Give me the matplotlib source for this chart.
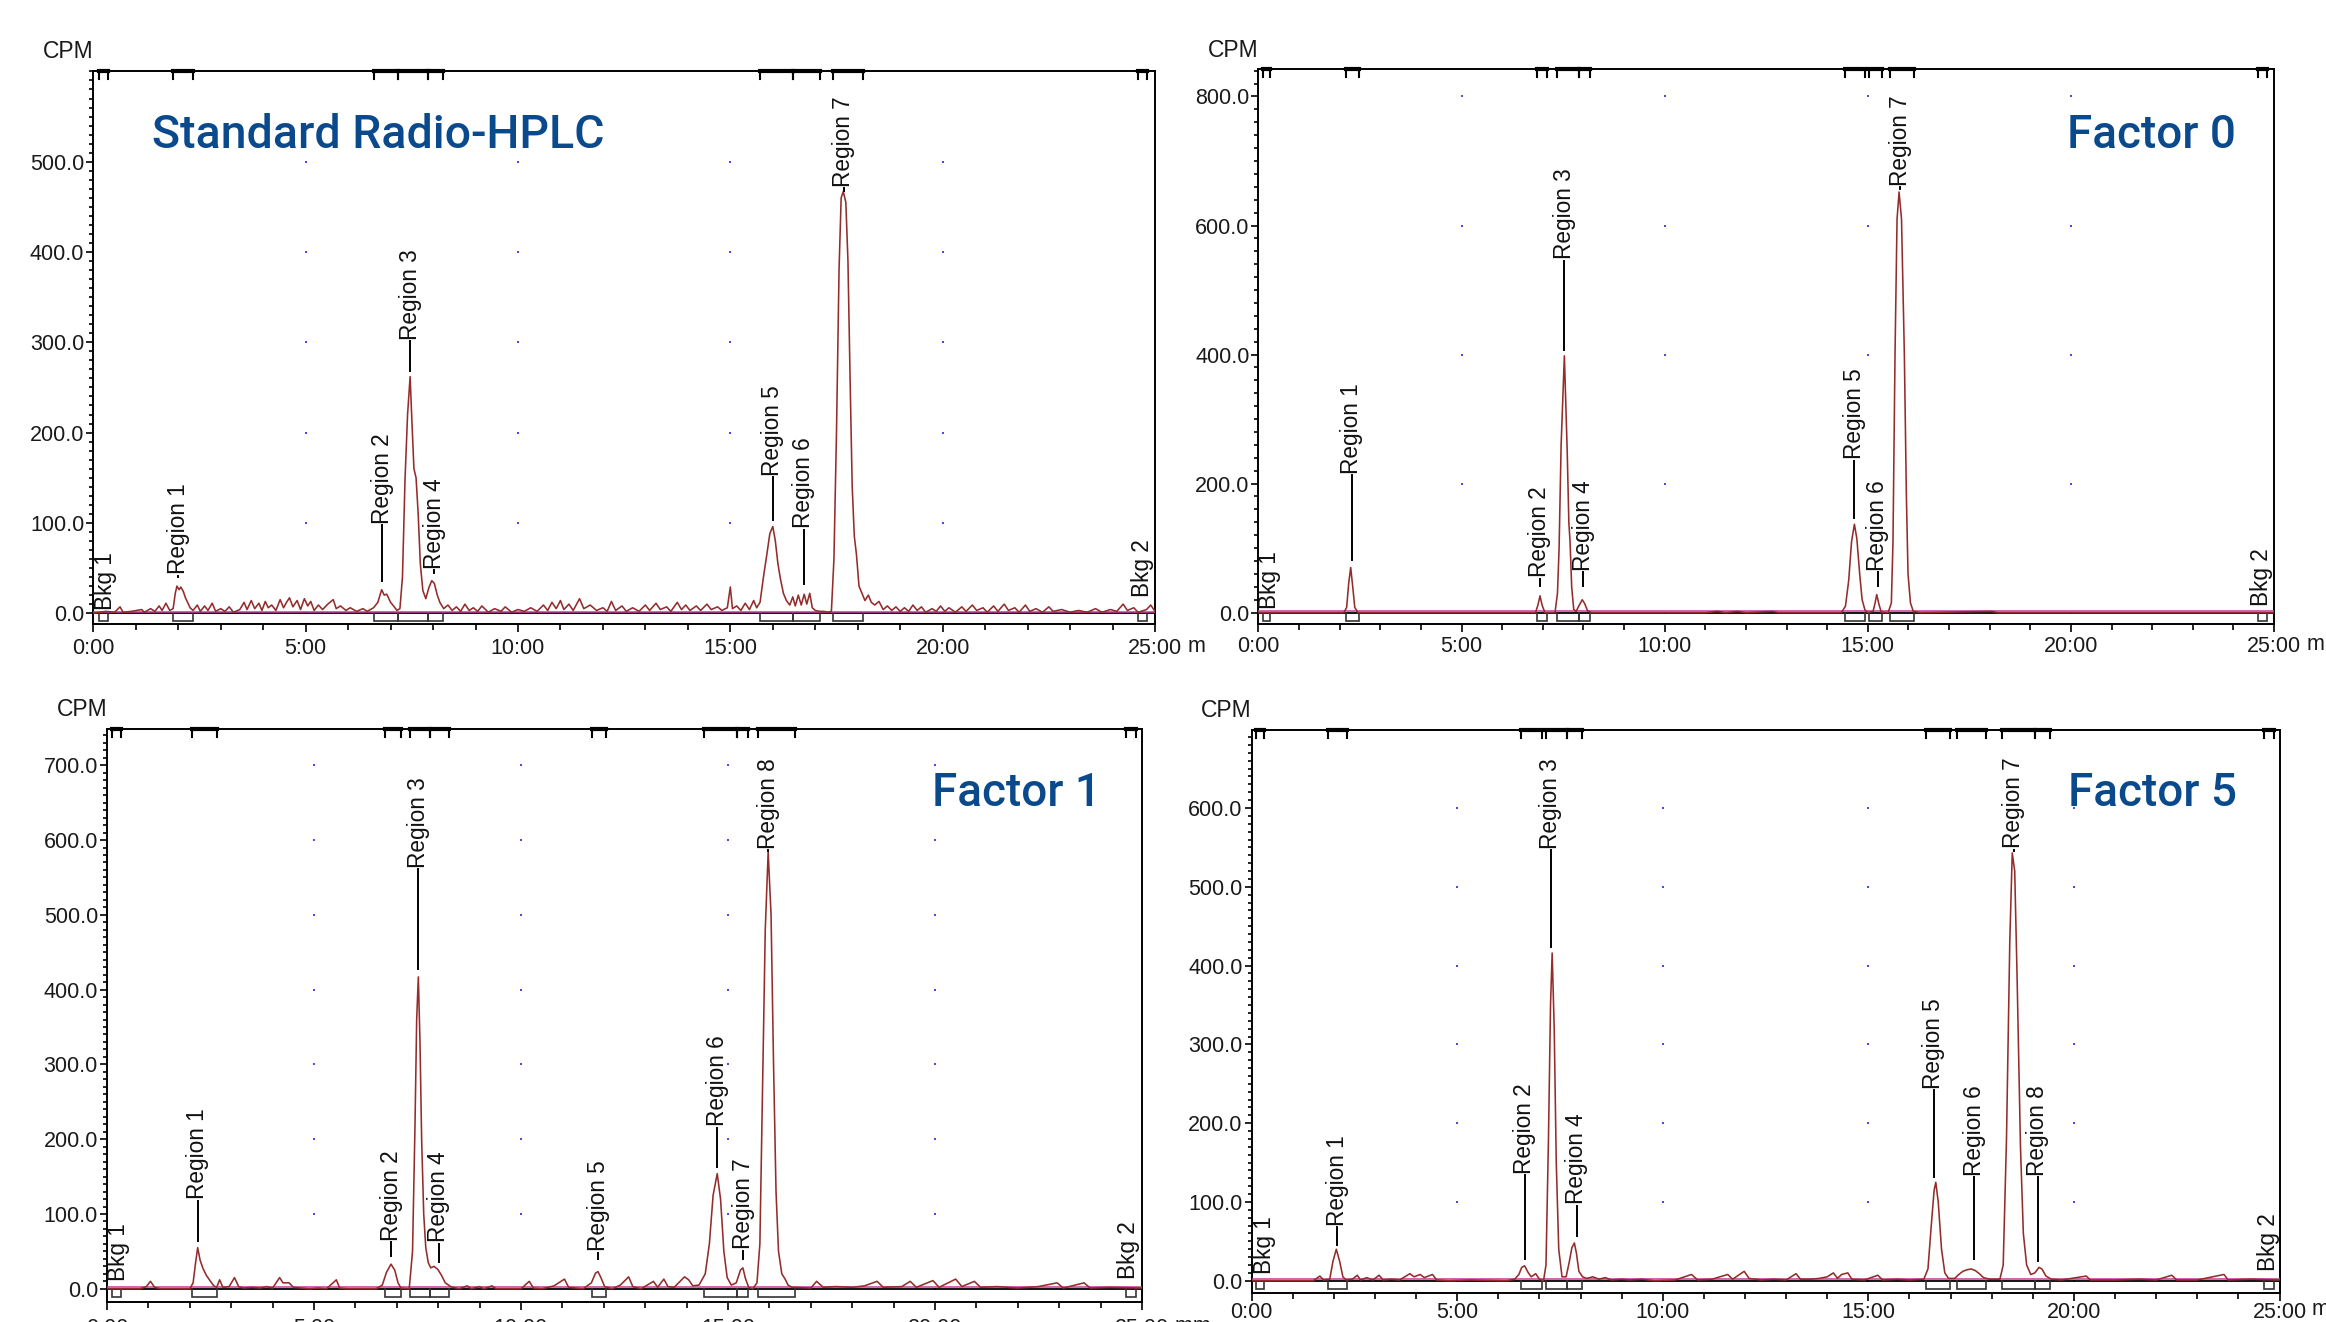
import matplotlib
matplotlib.use('Agg')
import matplotlib.pyplot as plt
from matplotlib.ticker import MultipleLocator, FixedLocator, FuncFormatter
import numpy as np

plt.rcParams['font.family'] = ['Liberation Sans', 'DejaVu Sans']

# ---- data: (minutes, CPM) ----
trace_std = [
    (0.0, 0), (0.3, 2), (0.5, 1), (0.63, 7), (0.7, 1), (0.9, 2), (1.14, 4), (1.2, 1), (1.35, 5),
    (1.45, 2), (1.55, 8), (1.62, 3), (1.71, 11), (1.8, 3), (1.88, 5), (1.93, 22), (1.97, 30),
    (2.02, 26), (2.06, 29), (2.12, 24), (2.17, 17), (2.22, 12), (2.28, 6), (2.35, 3), (2.45, 9),
    (2.52, 2), (2.62, 8), (2.7, 3), (2.8, 11), (2.88, 2), (3.0, 5), (3.1, 2), (3.2, 7), (3.3, 1),
    (3.45, 4), (3.55, 12), (3.62, 4), (3.72, 14), (3.8, 5), (3.9, 11), (3.97, 3), (4.05, 13),
    (4.12, 6), (4.2, 9), (4.3, 3), (4.4, 15), (4.48, 6), (4.55, 12), (4.62, 17), (4.7, 7),
    (4.8, 14), (4.88, 4), (4.97, 16), (5.05, 8), (5.12, 13), (5.2, 3), (5.3, 9), (5.4, 4),
    (5.52, 10), (5.65, 15), (5.72, 5), (5.82, 8), (5.95, 3), (6.05, 6), (6.2, 2), (6.35, 5),
    (6.45, 2), (6.6, 6), (6.7, 12), (6.79, 26), (6.85, 20), (6.91, 21), (7.0, 12), (7.07, 8),
    (7.15, 3), (7.22, 5), (7.28, 40), (7.34, 148), (7.40, 220), (7.46, 262), (7.50, 215),
    (7.55, 160), (7.60, 150), (7.65, 110), (7.70, 55), (7.76, 25), (7.83, 16), (7.9, 28),
    (7.97, 36), (8.03, 33), (8.1, 20), (8.16, 12), (8.25, 5), (8.35, 9), (8.45, 3), (8.55, 7),
    (8.65, 2), (8.75, 10), (8.85, 3), (8.95, 6), (9.05, 2), (9.15, 8), (9.3, 1), (9.45, 5),
    (9.6, 2), (9.7, 7), (9.85, 1), (10.0, 4), (10.15, 2), (10.3, 6), (10.45, 2), (10.6, 9),
    (10.7, 3), (10.8, 12), (10.9, 5), (11.0, 14), (11.08, 4), (11.2, 10), (11.3, 3), (11.45, 16),
    (11.55, 5), (11.7, 9), (11.85, 3), (12.0, 6), (12.1, 2), (12.2, 13), (12.3, 3), (12.45, 8),
    (12.55, 2), (12.7, 6), (12.85, 2), (13.0, 9), (13.1, 3), (13.25, 11), (13.35, 4), (13.5, 7),
    (13.6, 2), (13.75, 12), (13.85, 4), (13.95, 9), (14.05, 3), (14.2, 8), (14.3, 3), (14.45, 10),
    (14.55, 4), (14.7, 7), (14.8, 3), (14.93, 6), (15.0, 29), (15.05, 5), (15.15, 8), (15.25, 3),
    (15.35, 11), (15.45, 4), (15.55, 14), (15.62, 6), (15.7, 12), (15.78, 40), (15.86, 65),
    (15.93, 88), (16.0, 96), (16.06, 80), (16.12, 55), (16.18, 38), (16.25, 22), (16.32, 14),
    (16.4, 9), (16.47, 18), (16.53, 8), (16.6, 20), (16.67, 9), (16.74, 21), (16.8, 10),
    (16.87, 22), (16.93, 6), (17.0, 3), (17.1, 2), (17.2, 2), (17.3, 1), (17.38, 2), (17.44, 60),
    (17.50, 200), (17.56, 380), (17.61, 460), (17.66, 467), (17.72, 455), (17.77, 390),
    (17.82, 260), (17.87, 140), (17.92, 85), (17.97, 65), (18.03, 30), (18.1, 22), (18.17, 14),
    (18.25, 20), (18.32, 12), (18.4, 9), (18.5, 13), (18.6, 4), (18.7, 8), (18.8, 3), (18.9, 7),
    (19.0, 2), (19.1, 6), (19.2, 2), (19.3, 9), (19.4, 3), (19.5, 7), (19.6, 1), (19.75, 5),
    (19.85, 2), (19.95, 8), (20.05, 2), (20.15, 6), (20.3, 1), (20.45, 7), (20.55, 2), (20.7, 9),
    (20.8, 3), (20.95, 6), (21.05, 1), (21.2, 8), (21.3, 2), (21.45, 10), (21.55, 3), (21.7, 6),
    (21.8, 1), (21.95, 9), (22.05, 2), (22.2, 5), (22.35, 1), (22.5, 7), (22.6, 2), (22.8, 4),
    (23.0, 1), (23.2, 3), (23.4, 1), (23.6, 5), (23.75, 1), (23.95, 4), (24.1, 2), (24.25, 10),
    (24.35, 3), (24.5, 6), (24.6, 1), (24.8, 4), (24.9, 9), (25.0, 2),
]

trace_f0 = [
    (0.0, 0), (2.1, 0), (2.17, 8), (2.22, 45), (2.27, 70), (2.32, 40), (2.37, 8), (2.45, 0),
    (6.82, 0), (6.88, 12), (6.93, 26), (6.98, 12), (7.05, 0), (7.3, 0), (7.36, 30), (7.40, 100),
    (7.45, 260), (7.53, 398), (7.60, 250), (7.64, 140), (7.67, 110), (7.71, 40), (7.76, 5),
    (7.82, 2), (7.9, 12), (7.97, 20), (8.03, 14), (8.1, 3), (8.2, 0), (11.0, 0), (11.3, 2),
    (11.5, 0), (11.8, 2), (12.0, 0), (12.65, 2), (12.8, 0), (14.35, 0), (14.45, 10), (14.53, 50),
    (14.6, 110), (14.67, 137), (14.73, 115), (14.8, 60), (14.86, 20), (14.93, 4), (15.0, 0),
    (15.13, 2), (15.18, 15), (15.22, 28), (15.27, 14), (15.33, 1), (15.5, 0), (15.58, 15),
    (15.62, 110), (15.67, 400), (15.72, 610), (15.77, 652), (15.83, 610), (15.90, 400),
    (15.95, 180), (15.99, 60), (16.05, 15), (16.12, 2), (16.3, 0), (18.05, 2), (18.2, 0), (25.0, 0),
]

trace_f1 = [
    (0.0, 0), (0.8, 0), (0.95, 3), (1.05, 10), (1.15, 2), (1.3, 0), (2.0, 0), (2.08, 8),
    (2.14, 35), (2.19, 55), (2.25, 38), (2.32, 27), (2.4, 18), (2.5, 10), (2.58, 4), (2.65, 2),
    (2.72, 12), (2.8, 2), (2.95, 3), (3.08, 15), (3.18, 3), (3.3, 1), (3.5, 2), (3.7, 1),
    (3.85, 3), (4.0, 1), (4.17, 15), (4.25, 8), (4.4, 8), (4.5, 2), (4.7, 1), (4.9, 0), (5.1, 1),
    (5.3, 0), (5.54, 12), (5.62, 1), (5.8, 0), (6.5, 0), (6.65, 5), (6.75, 22), (6.86, 33),
    (6.95, 25), (7.03, 8), (7.1, 1), (7.3, 0), (7.38, 50), (7.44, 220), (7.48, 360), (7.52, 417),
    (7.56, 330), (7.6, 200), (7.65, 100), (7.7, 55), (7.76, 35), (7.82, 28), (7.9, 30),
    (7.99, 26), (8.08, 18), (8.17, 8), (8.3, 3), (8.5, 0), (8.7, 4), (8.8, 0), (9.0, 3), (9.1, 0),
    (9.3, 4), (9.4, 0), (10.0, 0), (10.2, 10), (10.3, 1), (10.5, 0), (10.8, 4), (11.05, 13),
    (11.15, 2), (11.5, 0), (11.7, 8), (11.8, 21), (11.86, 23), (11.93, 15), (12.02, 3),
    (12.2, 0), (12.4, 5), (12.6, 16), (12.7, 3), (12.9, 0), (13.2, 10), (13.3, 2), (13.45, 13),
    (13.55, 3), (13.7, 2), (13.95, 16), (14.05, 12), (14.15, 4), (14.3, 5), (14.45, 20),
    (14.55, 60), (14.64, 125), (14.74, 154), (14.82, 120), (14.9, 50), (14.98, 15), (15.08, 5),
    (15.2, 8), (15.3, 25), (15.36, 28), (15.42, 14), (15.5, 2), (15.6, 0), (15.7, 8),
    (15.77, 60), (15.83, 250), (15.9, 480), (15.97, 584), (16.04, 500), (16.1, 300),
    (16.16, 130), (16.22, 50), (16.3, 20), (16.38, 13), (16.45, 5), (16.55, 2), (17.0, 1),
    (17.14, 10), (17.3, 2), (17.6, 3), (18.0, 2), (18.3, 4), (18.6, 10), (18.75, 2), (19.2, 3),
    (19.4, 10), (19.55, 2), (19.95, 11), (20.1, 2), (20.5, 13), (20.65, 3), (20.95, 10),
    (21.1, 2), (21.5, 3), (22.0, 1), (22.5, 3), (22.95, 8), (23.1, 1), (23.6, 8), (23.75, 1),
    (24.2, 2), (25.0, 1),
]

trace_f5 = [
    (0.0, 0), (1.5, 0), (1.66, 6), (1.75, 1), (1.9, 2), (1.98, 25), (2.06, 40), (2.14, 25),
    (2.22, 5), (2.3, 1), (2.45, 2), (2.57, 7), (2.65, 1), (2.8, 4), (2.95, 1), (3.1, 7),
    (3.2, 1), (3.4, 2), (3.6, 1), (3.85, 9), (3.95, 5), (4.1, 8), (4.2, 4), (4.4, 8), (4.5, 1),
    (4.8, 0), (5.3, 1), (6.2, 0), (6.4, 2), (6.5, 8), (6.57, 17), (6.64, 19), (6.72, 11),
    (6.8, 5), (6.91, 9), (7.0, 2), (7.1, 0), (7.16, 20), (7.22, 180), (7.27, 350), (7.31, 416),
    (7.36, 320), (7.41, 150), (7.47, 40), (7.55, 5), (7.65, 5), (7.73, 25), (7.79, 42),
    (7.85, 48), (7.9, 35), (7.96, 12), (8.05, 5), (8.15, 3), (8.3, 5), (8.45, 2), (8.6, 4),
    (8.75, 1), (9.0, 2), (9.2, 1), (9.5, 2), (9.8, 0), (10.3, 1), (10.7, 8), (10.85, 1),
    (11.2, 2), (11.58, 8), (11.7, 2), (11.98, 12), (12.1, 3), (12.4, 1), (12.7, 2), (13.0, 1),
    (13.24, 9), (13.35, 2), (13.6, 2), (13.8, 3), (14.0, 5), (14.15, 10), (14.25, 3),
    (14.35, 8), (14.5, 10), (14.6, 2), (14.9, 1), (15.23, 7), (15.35, 1), (15.7, 2), (16.0, 1),
    (16.35, 2), (16.45, 15), (16.53, 70), (16.6, 115), (16.64, 125), (16.7, 100), (16.78, 40),
    (16.86, 10), (16.95, 3), (17.1, 3), (17.2, 8), (17.3, 12), (17.4, 14), (17.5, 15),
    (17.6, 13), (17.7, 9), (17.8, 4), (17.95, 2), (18.2, 2), (18.28, 20), (18.36, 180),
    (18.44, 430), (18.5, 543), (18.56, 520), (18.62, 380), (18.7, 170), (18.77, 60), (18.85, 20),
    (18.95, 8), (19.05, 10), (19.15, 17), (19.22, 15), (19.32, 6), (19.45, 2), (19.7, 1),
    (20.3, 6), (20.4, 1), (21.0, 1), (21.6, 2), (22.0, 1), (22.38, 7), (22.5, 1), (23.0, 1),
    (23.65, 8), (23.75, 1), (24.3, 2), (25.0, 1),
]

# integration regions (start, end) in minutes
regions_std = [(0.14, 0.35), (1.87, 2.34), (6.62, 7.18), (7.18, 7.87), (7.87, 8.24),
               (15.69, 16.47), (16.47, 17.12), (17.42, 18.13), (24.59, 24.80)]
regions_f0 = [(0.12, 0.29), (2.15, 2.48), (6.85, 7.11), (7.34, 7.89), (7.89, 8.16),
              (14.43, 14.94), (15.03, 15.36), (15.55, 16.13), (24.60, 24.82)]
regions_f1 = [(0.11, 0.33), (2.06, 2.66), (6.71, 7.09), (7.32, 7.80), (7.80, 8.27),
              (11.71, 12.06), (14.43, 15.22), (15.22, 15.48), (15.72, 16.63), (24.62, 24.85)]
regions_f5 = [(0.10, 0.31), (1.85, 2.32), (6.55, 7.07), (7.16, 7.68), (7.68, 8.03),
              (16.41, 16.99), (17.16, 17.86), (18.26, 19.05), (19.05, 19.43), (24.63, 24.86)]

# peak labels: name, x (min), text start (CPM), leader foot (CPM)
names_std = ['Bkg 1', 'Region 1', 'Region 2', 'Region 3', 'Region 4', 'Region 5', 'Region 6', 'Region 7', 'Bkg 2']
lab_t_std = [0.28, 2.00, 6.80, 7.46, 8.03, 16.00, 16.73, 17.67, 24.70]
lab_y_std = [4, 43, 99, 303, 49, 152, 94, 472, 18]
lead_std = [None, 40, 36, 268, 45, 103, 32, 468, None]

names_f0 = ['Bkg 1', 'Region 1', 'Region 2', 'Region 3', 'Region 4', 'Region 5', 'Region 6', 'Region 7', 'Bkg 2']
lab_t_f0 = [0.27, 2.29, 6.93, 7.53, 7.99, 14.67, 15.25, 15.80, 24.69]
lab_y_f0 = [6, 215, 55, 548, 65, 238, 65, 662, 10]
lead_f0 = [None, 81, 42, 407, 42, 147, 42, 656, None]

names_f1 = ['Bkg 1', 'Region 1', 'Region 2', 'Region 3', 'Region 4', 'Region 5', 'Region 6', 'Region 7', 'Region 8', 'Bkg 2']
lab_t_f1 = [0.28, 2.19, 6.86, 7.52, 8.01, 11.86, 14.74, 15.37, 15.97, 24.68]
lab_y_f1 = [10, 120, 64, 563, 62, 50, 217, 53, 588, 13]
lead_f1 = [None, 64, 44, 428, 36, 40, 163, 40, 585, None]

names_f5 = ['Bkg 1', 'Region 1', 'Region 2', 'Region 3', 'Region 4', 'Region 5', 'Region 6', 'Region 7', 'Region 8', 'Bkg 2']
lab_t_f5 = [0.31, 2.08, 6.64, 7.27, 7.91, 16.59, 17.58, 18.54, 19.12, 24.73]
lab_y_f5 = [9, 70, 136, 548, 97, 244, 133, 549, 133, 13]
lead_f5 = [None, 46, 28, 423, 57, 132, 28, 546, 25, None]

W, H = 2326, 1322
fig = plt.figure(figsize=(W / 100, H / 100), dpi=100)
fig.patch.set_facecolor('white')

FS = 15.5
LFS = 16.3
TRACE = '#942c2c'
BLUE_T = '#0a4a8c'


def panel(box, ylim, ystep, ytop, yminor, trace, regions, names, lt, ly, lead,
          title, title_xy, suffix, xpad):
    l, r, top, bot = box
    ax = fig.add_axes([l / W, 1 - bot / H, (r - l) / W, (bot - top) / H])
    ax.set_xlim(0, 25)
    ax.set_ylim(*ylim)
    hpx = bot - top
    px = (ylim[1] - ylim[0]) / hpx  # data units per pixel

    t, y = map(list, zip(*trace))
    ax.plot(t, y, color=TRACE, lw=1.15, zorder=4)
    ax.axhline(0, color='black', lw=1.3, zorder=3)
    ax.axhline(1.6 * px, color='#c23c9c', lw=1.3, zorder=3.5, alpha=0.85)

    # grid dots
    for gx in [5, 10, 15, 20]:
        for gy in np.arange(0, ytop + 1, ystep):
            ax.plot(gx, gy, marker='s', ms=1.9, color='#4a4ae6', mew=0, zorder=2)

    # region brackets, bottom and top
    yb = -8 * px
    tr = ax.get_xaxis_transform()
    for s, e in regions:
        ax.plot([s, s, e, e], [0, yb, yb, 0], color='#333333', lw=1.2, zorder=3,
                solid_joinstyle='miter')
        ax.plot([s, e], [1.0, 1.0], color='black', lw=3.0, transform=tr, clip_on=False, zorder=5)
        for xx in (s, e):
            ax.plot([xx, xx], [1.0, 1.0 - 8.0 / hpx], color='black', lw=1.5, transform=tr,
                    clip_on=False, zorder=5)

    # peak labels with leaders
    for nm, x, yy, lo in zip(names, lt, ly, lead):
        ax.text(x, yy, nm, rotation=90, ha='center', va='bottom', fontsize=LFS,
                color='#111111', zorder=6)
        if lo is not None:
            ax.plot([x, x], [lo, yy - 1.5 * px], color='black', lw=1.4, zorder=5)

    # axes styling
    for sp in ax.spines.values():
        sp.set_linewidth(1.4)
        sp.set_color('black')
    ax.xaxis.set_major_locator(MultipleLocator(5))
    ax.xaxis.set_minor_locator(MultipleLocator(1))
    ax.xaxis.set_major_formatter(FuncFormatter(lambda v, p: '%d:00' % int(round(v))))
    ax.yaxis.set_major_locator(FixedLocator(np.arange(0, ytop + 1, ystep)))
    ax.yaxis.set_minor_locator(FixedLocator(np.arange(0, ylim[1], yminor)))
    ax.yaxis.set_major_formatter(FuncFormatter(lambda v, p: '%.1f' % v))
    ax.tick_params(axis='both', which='both', direction='out', colors='black',
                   labelcolor='#1a1a1a', labelsize=FS, width=1.2)
    ax.tick_params(axis='x', which='major', length=6, pad=xpad)
    ax.tick_params(axis='x', which='minor', length=4)
    ax.tick_params(axis='y', which='major', length=5, pad=1.5)
    ax.tick_params(axis='y', which='minor', length=3)

    # unit suffix after the last time label (cut off like in the source)
    ax.annotate(suffix, xy=(25, 0), xycoords=tr, xytext=(19.4, -(4.3 + xpad)),
                textcoords='offset points', ha='left', va='top', fontsize=FS,
                color='#1a1a1a', annotation_clip=False)

    fig.text(l / W, 1 - (top - 19) / H, 'CPM', ha='right', va='center', fontsize=16.5,
             color='#1a1a1a')
    fig.text(title_xy[0] / W, 1 - title_xy[1] / H, title, ha='left', va='baseline',
             fontsize=title_xy[2], color=BLUE_T,
             family=['Roboto', 'Liberation Sans', 'DejaVu Sans'], fontweight='medium')
    return ax


panel((93.3, 1155, 70.7, 624), (-12.0, 600.8), 100, 500, 10, trace_std, regions_std,
      names_std, lab_t_std, lab_y_std, lead_std, 'Standard Radio-HPLC', (152, 148, 33.5), ' m', 4.0)
panel((1258.5, 2274, 69.4, 624.3), (-18.1, 842), 200, 800, 20, trace_f0, regions_f0,
      names_f0, lab_t_f0, lab_y_f0, lead_f0, 'Factor 0', (2067, 147.5, 33), ' mm:', 2.7)
panel((107, 1142, 728.8, 1301.6), (-17.1, 748.7), 100, 700, 10, trace_f1, regions_f1,
      names_f1, lab_t_f1, lab_y_f1, lead_f1, 'Factor 1', (931.5, 805.6, 33), ' mm', 5.8)
panel((1251.6, 2279.5, 729.6, 1293.3), (-15.9, 699.5), 100, 600, 10, trace_f5, regions_f5,
      names_f5, lab_t_f5, lab_y_f5, lead_f5, 'Factor 5', (2068.5, 805.6, 33), ' mm', 0.0)

fig.savefig('out.png', dpi=100)
